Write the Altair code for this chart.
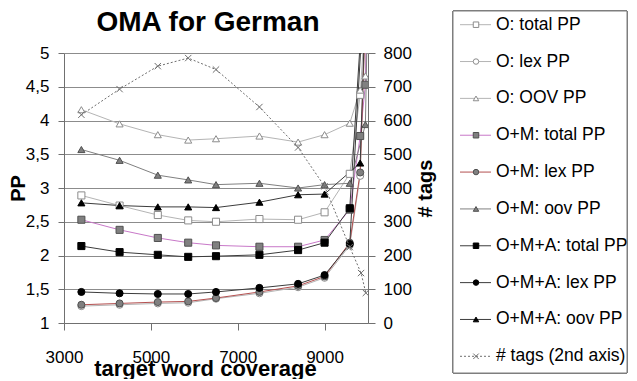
import altair as alt
import pandas as pd

# ---- data ----
X = [3400, 4280, 5160, 5860, 6500, 7500, 8390, 9000, 9580, 9820, 9940, 10000]

SERIES = ["O: total PP", "O: lex PP", "O: OOV PP",
          "O+M: total PP", "O+M: lex PP", "O+M: oov PP",
          "O+M+A: total PP", "O+M+A: lex PP", "O+M+A: oov PP"]
TAGS_NAME = "# tags (2nd axis)"

O_TOTAL = [2.89, 2.74, 2.60, 2.52, 2.50, 2.54, 2.53, 2.64, 3.21, 4.38, 5.6, None]
O_LEX = [1.25, 1.27, 1.29, 1.30, 1.36, 1.44, 1.53, 1.67, 2.15, 3.18, 5.5, None]
O_OOV = [4.16, 3.95, 3.79, 3.71, 3.73, 3.77, 3.68, 3.79, 3.96, 4.45, 4.66, 6.5]
OM_TOTAL = [2.53, 2.38, 2.26, 2.19, 2.15, 2.13, 2.13, 2.23, 2.68, 3.77, 4.53, 6.5]
OM_LEX = [1.27, 1.29, 1.31, 1.32, 1.37, 1.46, 1.55, 1.69, 2.19, 3.23, 5.6, None]
OM_OOV = [3.57, 3.41, 3.19, 3.12, 3.05, 3.07, 3.00, 3.05, 3.07, None, 3.94, 6.0]
OMA_TOTAL = [2.14, 2.05, 2.01, 1.98, 1.99, 2.01, 2.08, 2.19, 2.70, None, None, 7.0]
OMA_LEX = [1.46, 1.44, 1.43, 1.43, 1.46, 1.52, 1.58, 1.71, 2.17, None, None, 7.0]
OMA_OOV = [2.78, 2.74, 2.72, 2.72, 2.71, 2.79, 2.90, 2.91, None, 3.37, None, 7.0]

TAGS_X = [3400, 4280, 5160, 5860, 6500, 7500, 8390, 9000, 9580, 9840, 9950]
TAGS = [617, 693, 761, 785, 751, 640, 520, 405, 225, 148, 89]

Y_TICKS = [1, 1.5, 2, 2.5, 3, 3.5, 4, 4.5, 5]
X_TICKS = [3000, 5000, 7000, 9000]
TAG_TICKS = [0, 100, 200, 300, 400, 500, 600, 700, 800]

# ---- styles ----
LINE_COLORS = ["#b4b4b4", "#b4b4b4", "#b4b4b4", "#c878c8", "#b45050",
               "#808080", "#3c3c3c", "#3c3c3c", "#3c3c3c"]
FILL_COLORS = ["#ffffff", "#ffffff", "#ffffff", "#808080", "#808080",
               "#808080", "#000000", "#000000", "#000000"]
MARK_STROKES = ["#8c8c8c", "#8c8c8c", "#8c8c8c", "#505050", "#505050",
                "#505050", "#000000", "#000000", "#000000"]
SHAPES = ["square", "circle", "triangle-up"] * 3
TAG_COLOR = "#6e6e6e"
CROSS = "M-1,-1L1,1M-1,1L1,-1"
FONT = "Liberation Sans"
AXIS_COLOR = "#707070"

ALL_SERIES = SERIES + [TAGS_NAME]
color_scale = alt.Scale(domain=ALL_SERIES, range=LINE_COLORS + [TAG_COLOR])
fill_scale = alt.Scale(domain=ALL_SERIES, range=FILL_COLORS + ["transparent"])
stroke_scale = alt.Scale(domain=ALL_SERIES, range=MARK_STROKES + [TAG_COLOR])
shape_scale = alt.Scale(domain=ALL_SERIES, range=SHAPES + [CROSS])
dash_scale = alt.Scale(domain=ALL_SERIES, range=[[1, 0]] * 9 + [[2, 2]])

columns = [O_TOTAL, O_LEX, O_OOV, OM_TOTAL, OM_LEX, OM_OOV, OMA_TOTAL, OMA_LEX, OMA_OOV]
rows = []
for name, vals in zip(SERIES, columns):
    for xv, v in zip(X, vals):
        if v is not None:
            rows.append({"series": name, "x": xv, "pp": v})
pp_df = pd.DataFrame(rows)
tags_df = pd.DataFrame({"x": TAGS_X, "tags": TAGS})
leg_df = pd.DataFrame({"series": ALL_SERIES})

x_enc = alt.X(
    "x:Q",
    scale=alt.Scale(domain=[3000, 10000], nice=False, zero=False),
    axis=alt.Axis(
        values=X_TICKS, format="d", grid=False, tickSize=7, labelPadding=19,
        labelFontSize=17, labelFont=FONT, labelColor="black", labelFlush=False,
        labelOverlap=False, domainColor=AXIS_COLOR, tickColor=AXIS_COLOR,
        title="target word coverage", titleFont=FONT, titleFontSize=22,
        titleFontWeight="bold", titleColor="black", titleY=52, titleX=141,
        titleBaseline="alphabetic",
    ),
)
y_axis = alt.Axis(
    values=Y_TICKS, labelExpr="replace(format(datum.value, '~g'), '.', ',')",
    grid=True, gridColor="#8c8c8c", gridWidth=1, tickSize=6, labelPadding=9,
    labelFontSize=17, labelFont=FONT, labelColor="black", labelFlush=False,
    labelOverlap=False, domainColor=AXIS_COLOR, tickColor=AXIS_COLOR,
    title="PP", titleFont=FONT, titleFontSize=20, titleFontWeight="bold",
    titleColor="black", titlePadding=-3,
)
y_enc = alt.Y("pp:Q", scale=alt.Scale(domain=[1, 5], nice=False, zero=False), axis=y_axis)

lines = alt.Chart(pp_df).mark_line(clip=True, strokeWidth=1).encode(
    x=x_enc, y=y_enc,
    color=alt.Color("series:N", scale=color_scale, legend=None),
)
points = alt.Chart(pp_df).mark_point(filled=True, clip=True, size=50, strokeWidth=1, opacity=1).encode(
    x=x_enc, y=y_enc,
    fill=alt.Fill("series:N", scale=fill_scale, legend=None),
    stroke=alt.Stroke("series:N", scale=stroke_scale, legend=None),
    shape=alt.Shape("series:N", scale=shape_scale, legend=None),
)
pp_layer = alt.layer(lines, points)

y_tags = alt.Y(
    "tags:Q", scale=alt.Scale(domain=[0, 800], nice=False),
    axis=alt.Axis(
        orient="right", values=TAG_TICKS, grid=False, tickSize=7, labelPadding=8,
        labelFontSize=17, labelFont=FONT, labelColor="black", labelFlush=False,
        labelOverlap=False, domainColor=AXIS_COLOR, tickColor=AXIS_COLOR,
        title="# tags", titleFont=FONT, titleFontSize=20, titleFontWeight="bold",
        titleColor="black", titleAngle=270, titleBaseline="top", titlePadding=4,
    ),
)
tag_line = alt.Chart(tags_df).mark_line(clip=True, strokeWidth=1, strokeDash=[2, 2], color=TAG_COLOR).encode(
    x=x_enc, y=y_tags)
tag_pts = alt.Chart(tags_df).mark_point(clip=True, shape=CROSS, size=40, strokeWidth=1, color=TAG_COLOR, opacity=1).encode(
    x=x_enc, y=y_tags)
tags_layer = alt.layer(tag_line, tag_pts)

# ---- legend (drawn beside the plot, in pixels relative to the plot's origin) ----
leg_y = alt.Y("series:N", scale=alt.Scale(type="point", domain=ALL_SERIES, range=[-28.3, 303.3], padding=0), axis=None)
leg_box = alt.Chart(leg_df).mark_rect(fill="white", stroke="#7f7f7f", strokeWidth=1).encode(
    x=alt.value(389), x2=alt.value(563), y=alt.value(-42), y2=alt.value(320))
leg_rule = alt.Chart(leg_df).mark_rule(strokeWidth=1).encode(
    y=leg_y, x=alt.value(396), x2=alt.value(427),
    color=alt.Color("series:N", scale=color_scale, legend=None),
    strokeDash=alt.StrokeDash("series:N", scale=dash_scale, legend=None),
)
leg_pts = alt.Chart(leg_df).mark_point(filled=True, size=30, strokeWidth=1, opacity=1).encode(
    y=leg_y, x=alt.value(412),
    fill=alt.Fill("series:N", scale=fill_scale, legend=None),
    stroke=alt.Stroke("series:N", scale=stroke_scale, legend=None),
    shape=alt.Shape("series:N", scale=shape_scale, legend=None),
)
leg_txt = alt.Chart(leg_df).mark_text(align="left", baseline="middle", font=FONT, fontSize=17.5, color="black").encode(
    y=leg_y, x=alt.value(432), text="series:N")
legend = alt.layer(leg_box, leg_rule, leg_pts, leg_txt)

chart = alt.layer(pp_layer, tags_layer, legend).resolve_scale(y="independent").properties(
    width=304, height=270, padding=0,
    title=alt.Title("OMA for German", font=FONT, fontSize=28, fontWeight="bold",
                    color="black", anchor="middle", frame="group", dx=-8, offset=-26),
).configure_view(strokeWidth=0)

chart.save("out.html", embed_options={"renderer": "svg", "actions": False})
